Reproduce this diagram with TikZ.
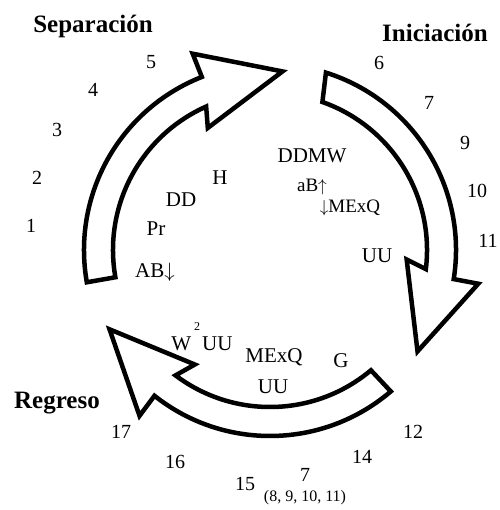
\documentclass[tikz,border=0pt]{standalone}
\usepackage{fontspec}
\setmainfont{Liberation Serif}

\begin{document}
\begin{tikzpicture}[
  x=1pt, y=1pt,
  phase/.style={font=\fontsize{25}{30}\selectfont\bfseries, anchor=base, inner sep=0pt},
  num/.style={font=\fontsize{20}{24}\selectfont, anchor=base, inner sep=0pt},
  lbl/.style={font=\fontsize{21}{25}\selectfont, anchor=base, inner sep=0pt},
  lblsm/.style={font=\fontsize{19}{23}\selectfont, anchor=base, inner sep=0pt},
  note/.style={font=\fontsize{16}{19}\selectfont, anchor=base, inner sep=0pt},
  cyc/.style={draw=black, line width=4.5pt, miter limit=10, fill=white}
]
\useasboundingbox (0,-510) rectangle (499,0);

% the three curved arrows of the cycle
\begin{scope}[shift={(270,-250)}]
\draw[cyc] (190:186) arc[start angle=190, end angle=111.5, radius=186] -- (111.5:211) -- (86:179) -- (117:137) -- (114:157) arc[start angle=114, end angle=190, radius=157] -- cycle;
\draw[cyc] (72.5:186) arc[start angle=72.5, end angle=-9, radius=186] -- (-9.2:211) -- (-34.5:179) -- (-4:137) -- (-7:157) arc[start angle=-7, end angle=70.5, radius=157] -- cycle;
\draw[cyc] (310.5:186) arc[start angle=310.5, end angle=231.6, radius=186] -- (231.8:211) -- (206.3:179) -- (236.7:137) -- (233:157) arc[start angle=233, end angle=310, radius=157] -- cycle;
\end{scope}

% phases
\node[phase] (sep) at (93,-33) {Separación};
\node[phase] (ini) at (435,-42) {Iniciación};
\node[phase] (reg) at (57,-408) {Regreso};

% stages round the outside
\node[num] (s1) at (31,-233) {1};
\node[num] (s2) at (37,-185) {2};
\node[num] (s3) at (57,-137) {3};
\node[num] (s4) at (93,-97) {4};
\node[num] (s5) at (151,-69) {5};
\node[num] (s6) at (379,-70) {6};
\node[num] (s7) at (429,-110) {7};
\node[num] (s9) at (465,-150) {9};
\node[num] (s10) at (477,-198) {10};
\node[num] (s11) at (488,-247) {11};
\node[num] (s12) at (413,-438) {12};
\node[num] (s14) at (362,-463) {14};
\node[num] (s7b) at (305,-481) {7};
\node[note] (s7list) at (305,-501) {(8, 9, 10, 11)};
\node[num] (s15) at (245,-490) {15};
\node[num] (s16) at (175,-468) {16};
\node[num] (s17) at (121,-438) {17};

% labels inside the cycle
\node[lbl] (h) at (220,-185) {H};
\node[lbl] (dd) at (181,-207) {DD};
\node[lbl] (pr) at (156,-236) {Pr};
\node[lbl] (abdn) at (155,-277) {AB$\downarrow$};
\node[lbl] (ddmw) at (312,-163) {DDMW};
\node[lblsm] (abup) at (312,-192) {aB$\uparrow$};
\node[lblsm] (mexqdn) at (350,-213) {$\downarrow$MExQ};
\node[lbl] (uuA) at (377,-262) {UU};
\node[lbl] (wuu) at (202,-350) {W\hspace{3pt}\raisebox{20pt}{\fontsize{12}{12}\selectfont 2}\hspace{2pt}UU};
\node[lbl] (mexq) at (274,-362) {MExQ};
\node[lbl] (uuB) at (273,-393) {UU};
\node[lbl] (g) at (341,-367) {G};
\end{tikzpicture}
\end{document}
